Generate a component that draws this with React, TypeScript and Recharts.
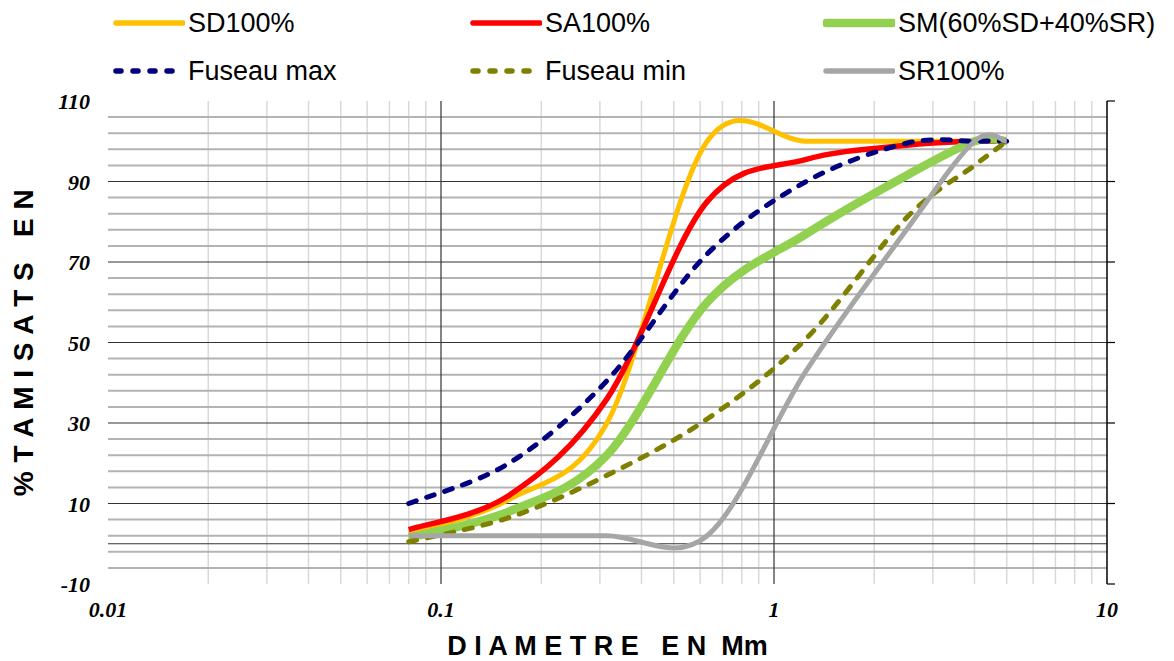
import React from "react";
import {
  ComposedChart,
  Line,
  XAxis,
  YAxis,
  CartesianGrid,
} from "recharts";

// sieve openings (mm) and % passing
const SIEVES = [0.08, 0.16, 0.315, 0.63, 1.25, 2.5, 4, 5];
const SD100 = [2.5, 11, 30, 100, 100, 100, 100, 100];
const SA100 = [3.5, 12, 36, 85, 95.5, 99, 100, 100];
const SM_MIX = [1.5, 8, 22, 60, 77, 91.5, 100, 100];
const FUSEAU_MAX = [10, 20, 40.5, 72, 90, 99.5, 100, 100];
const FUSEAU_MIN = [0.5, 6.5, 17, 31, 51, 81, 94, 100];
const SR100 = [2, 2, 2, 2, 43, 78, 100, 100];

const X_TICKS = [0.01, 0.1, 1, 10];
const X_MINOR = [
  0.02, 0.03, 0.04, 0.05, 0.06, 0.07, 0.08, 0.09, 0.2, 0.3, 0.4, 0.5, 0.6,
  0.7, 0.8, 0.9, 2, 3, 4, 5, 6, 7, 8, 9,
];
const X_MAJOR = [0.1, 1];
const Y_TICKS = [-10, 10, 30, 50, 70, 90, 110];
const Y_MINOR = [
  -6, -2, 2, 6, 14, 18, 22, 26, 34, 38, 42, 46, 54, 58, 62, 66, 74, 78, 82,
  86, 94, 98, 102, 106,
];
const Y_MAJOR = [0, 10, 30, 50, 70, 90];

const data = SIEVES.map((d, i) => ({
  d,
  sd: SD100[i],
  sa: SA100[i],
  sm: SM_MIX[i],
  fmax: FUSEAU_MAX[i],
  fmin: FUSEAU_MIN[i],
  sr: SR100[i],
}));

type Serie = {
  key: string;
  name: string;
  color: string;
  width: number;
  dash?: string;
};

const SERIES: Serie[] = [
  { key: "sd", name: "SD100%", color: "#FFC000", width: 5 },
  { key: "sa", name: "SA100%", color: "#FF0000", width: 5.5 },
  { key: "sm", name: "SM(60%SD+40%SR)", color: "#92D050", width: 8.5 },
  { key: "fmax", name: "Fuseau max", color: "#000080", width: 5, dash: "8 11" },
  { key: "fmin", name: "Fuseau min", color: "#808000", width: 5, dash: "8 11" },
  { key: "sr", name: "SR100%", color: "#A6A6A6", width: 5 },
];

const SANS = "'Liberation Sans', Arial, sans-serif";
const SERIF = "'Liberation Serif', 'Times New Roman', serif";

// excel-like smoothed line (catmull-rom through every point)
function excelCurve(context: any) {
  let pts: number[][] = [];
  return {
    areaStart() {},
    areaEnd() {},
    lineStart() {
      pts = [];
    },
    lineEnd() {
      const n = pts.length;
      if (!n) return;
      context.moveTo(pts[0][0], pts[0][1]);
      for (let i = 0; i < n - 1; i++) {
        const p0 = pts[Math.max(0, i - 1)];
        const p1 = pts[i];
        const p2 = pts[i + 1];
        const p3 = pts[Math.min(n - 1, i + 2)];
        context.bezierCurveTo(
          p1[0] + (p2[0] - p0[0]) / 6,
          p1[1] + (p2[1] - p0[1]) / 6,
          p2[0] - (p3[0] - p1[0]) / 6,
          p2[1] - (p3[1] - p1[1]) / 6,
          p2[0],
          p2[1]
        );
      }
    },
    point(x: number, y: number) {
      pts.push([+x, +y]);
    },
  };
}

const XTick = ({ x, y, payload }: any) => (
  <text
    x={x}
    y={y}
    dy={15}
    textAnchor="middle"
    fontFamily={SERIF}
    fontSize={22}
    fontWeight="bold"
    fontStyle="italic"
    fill="#000"
  >
    {String(payload.value)}
  </text>
);

const YTick = ({ x, y, payload }: any) => (
  <text
    x={x}
    y={y}
    dy={8}
    textAnchor="end"
    fontFamily={SERIF}
    fontSize={22}
    fontWeight="bold"
    fontStyle="italic"
    fill="#000"
  >
    {payload.value}
  </text>
);

const NoTick = () => null;

const XTitle = ({ viewBox }: any) => (
  <text
    x={viewBox.x + viewBox.width / 2}
    y={viewBox.y + 71}
    textAnchor="middle"
    fontFamily={SANS}
    fontSize={27}
    fontWeight="bold"
    xmlSpace="preserve"
  >
    {"D I A M E T R E   E N  Mm"}
  </text>
);

const YTitle = ({ viewBox }: any) => {
  const cx = 33;
  const cy = viewBox.y + viewBox.height / 2;
  return (
    <text
      x={cx}
      y={cy}
      transform={`rotate(-90, ${cx}, ${cy})`}
      textAnchor="middle"
      fontFamily={SANS}
      fontSize={28}
      fontWeight="bold"
      letterSpacing={0.5}
      xmlSpace="preserve"
    >
      {"% T A M I S A T S   E N"}
    </text>
  );
};

const LEGEND_COLS = [113, 470, 823];
const LEGEND_ROWS = [23, 71];

function ChartLegend() {
  return (
    <>
      {SERIES.map((s, i) => (
        <div
          key={s.key}
          style={{
            position: "absolute",
            left: LEGEND_COLS[i % 3],
            top: LEGEND_ROWS[Math.floor(i / 3)] - 16,
            height: 32,
            display: "flex",
            alignItems: "center",
            fontFamily: SANS,
            fontSize: 27,
            color: "#000",
            whiteSpace: "nowrap",
          }}
        >
          <svg width={72} height={14} style={{ marginRight: 3 }}>
            <line
              x1={3}
              x2={70}
              y1={7}
              y2={7}
              stroke={s.color}
              strokeWidth={s.key === "sm" ? 8.5 : 5.5}
              strokeDasharray={s.dash ? "5 12" : undefined}
              strokeLinecap="round"
            />
          </svg>
          <span>{s.name}</span>
        </div>
      ))}
    </>
  );
}

export default function App() {
  return (
    <div
      style={{
        position: "absolute",
        left: 0,
        top: 0,
        width: 1174,
        height: 661,
        background: "#fff",
      }}
    >
      <ComposedChart
        width={1174}
        height={661}
        data={data}
        margin={{ top: 101, right: 0, bottom: 0, left: 0 }}
      >
        <CartesianGrid
          horizontal={false}
          verticalValues={X_MINOR}
          stroke="#d9d9d9"
          strokeWidth={1.5}
        />
        <CartesianGrid
          vertical={false}
          horizontalValues={Y_MINOR}
          stroke="#b3b3b3"
          strokeWidth={2}
        />
        <CartesianGrid
          verticalValues={X_MAJOR}
          horizontalValues={Y_MAJOR}
          stroke="#333"
          strokeWidth={1.2}
        />
        <XAxis
          dataKey="d"
          type="number"
          scale="log"
          domain={[0.01, 10]}
          ticks={X_TICKS}
          allowDataOverflow
          height={77}
          axisLine={false}
          tickLine={false}
          tickSize={0}
          tickMargin={18}
          tick={<XTick />}
          interval={0}
          label={<XTitle />}
        />
        <YAxis
          type="number"
          domain={[-10, 110]}
          ticks={Y_TICKS}
          allowDataOverflow
          width={108}
          axisLine={false}
          tickLine={false}
          tickSize={0}
          tickMargin={18}
          tick={<YTick />}
          interval={0}
          label={<YTitle />}
        />
        <YAxis
          yAxisId="right"
          orientation="right"
          type="number"
          domain={[-10, 110]}
          ticks={Y_TICKS}
          allowDataOverflow
          width={67}
          axisLine={{ stroke: "#000", strokeWidth: 1.5 }}
          tickLine={{ stroke: "#000", strokeWidth: 1.2 }}
          tickSize={8}
          tick={<NoTick />}
          interval={0}
        />
        {SERIES.map((s) => (
          <Line
            key={s.key}
            dataKey={s.key}
            name={s.name}
            type={excelCurve as any}
            stroke={s.color}
            strokeWidth={s.width}
            strokeDasharray={s.dash}
            strokeLinecap={s.dash ? "round" : "butt"}
            dot={false}
            activeDot={false}
            isAnimationActive={false}
          />
        ))}
      </ComposedChart>
      <ChartLegend />
    </div>
  );
}
